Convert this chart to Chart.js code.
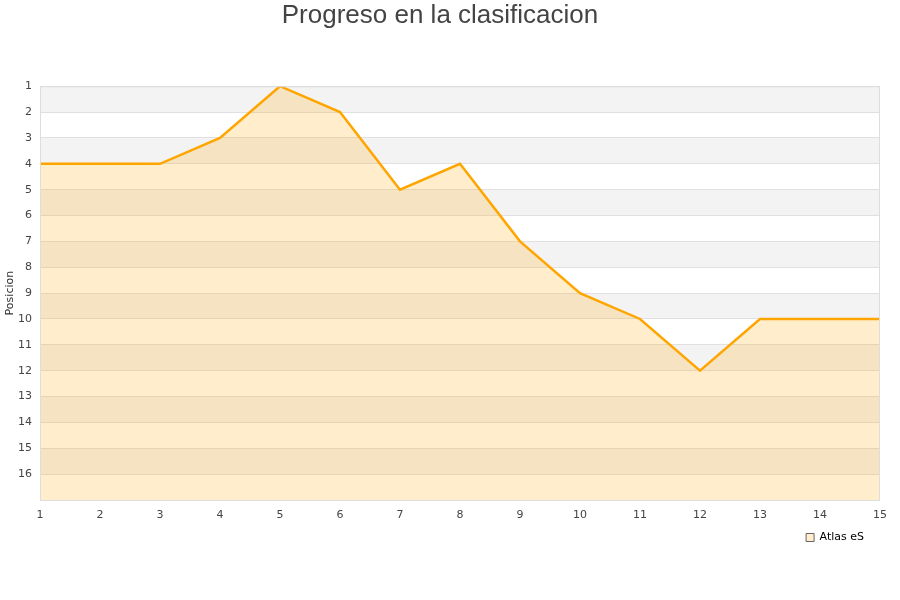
<!DOCTYPE html>
<html>
<head>
<meta charset="utf-8">
<title>Progreso en la clasificacion</title>
<script src="https://cdn.jsdelivr.net/npm/chart.js@4/dist/chart.umd.min.js"></script>
<style>
  html, body { margin: 0; padding: 0; background: #fff; }
  #wrap { width: 900px; height: 600px; }
</style>
</head>
<body>
<div id="wrap"><canvas id="myChart" width="900" height="600"></canvas></div>
<script>
// Jornadas y posiciones
var jornadas = [1, 2, 3, 4, 5, 6, 7, 8, 9, 10, 11, 12, 13, 14, 15];
var posiciones = [4, 4, 4, 3, 1, 2, 5, 4, 7, 9, 10, 12, 10, 10, 10];
var equipo = "Atlas eS";
var posMin = 1;
var posMax = 17;

// franjas grises alternas y borde del area
var bandsPlugin = {
  id: "bands",
  afterLayout: function (chart) {
    // leyenda un poco separada del borde derecho
    chart.legend.left -= 10;
    chart.legend.right -= 10;
  },
  beforeDraw: function (chart) {
    var ctx = chart.ctx;
    var area = chart.chartArea;
    var y = chart.scales.y;
    ctx.save();
    ctx.fillStyle = "#f3f3f3";
    for (var v = posMin; v < posMax; v += 2) {
      var top = y.getPixelForValue(v);
      var bottom = y.getPixelForValue(v + 1);
      ctx.fillRect(area.left, top, area.right - area.left, bottom - top);
    }
    ctx.restore();
  },
  afterDraw: function (chart) {
    var ctx = chart.ctx;
    var area = chart.chartArea;
    ctx.save();
    ctx.strokeStyle = "#dddddd";
    ctx.lineWidth = 1;
    ctx.strokeRect(area.left + 0.5, area.top + 0.5, area.right - area.left - 1, area.bottom - area.top);
    ctx.restore();
  }
};

var ctx = document.getElementById("myChart").getContext("2d");
var chart = new Chart(ctx, {
  type: "line",
  data: {
    datasets: [
      {
        label: equipo,
        data: jornadas.map(function (j, i) { return { x: j, y: posiciones[i] }; }),
        borderColor: "#ffa500",
        backgroundColor: "rgba(255, 165, 0, 0.2)",
        borderWidth: 2.5,
        pointRadius: 0,
        tension: 0,
        fill: "start"
      }
    ]
  },
  options: {
    responsive: false,
    animation: false,
    layout: { padding: { left: 0, right: 20, top: 0, bottom: 47 } },
    plugins: {
      title: {
        display: true,
        text: "Progreso en la clasificacion",
        color: "#444444",
        font: { family: "Liberation Sans", size: 26, weight: "normal" },
        padding: { top: 0, bottom: 55 }
      },
      legend: {
        position: "bottom",
        align: "end",
        labels: {
          boxWidth: 8,
          boxHeight: 8,
          color: "#000000",
          font: { family: "DejaVu Sans", size: 11 },
          padding: 6,
          generateLabels: function (chart) {
            return [{
              text: equipo,
              fillStyle: "#ffedcc",
              strokeStyle: "#666666",
              lineWidth: 1,
              datasetIndex: 0
            }];
          }
        }
      },
      tooltip: { enabled: false }
    },
    scales: {
      x: {
        type: "linear",
        min: 1,
        max: 15,
        ticks: {
          stepSize: 1,
          color: "#444444",
          font: { family: "DejaVu Sans", size: 11 },
          padding: 9,
          maxRotation: 0
        },
        grid: { display: false, drawTicks: false },
        border: { display: false },
        afterFit: function (scale) { scale.height = 26; }
      },
      y: {
        type: "linear",
        reverse: true,
        min: posMin,
        max: posMax,
        ticks: {
          stepSize: 1,
          color: "#444444",
          font: { family: "DejaVu Sans", size: 11 },
          padding: 8,
          callback: function (v) { return v < posMax ? v : ""; }
        },
        grid: { color: "#e0e0e0", drawTicks: false },
        border: { display: false },
        title: {
          display: true,
          text: "Posicion",
          color: "#333333",
          font: { family: "DejaVu Sans", size: 11 },
          padding: { top: 4, bottom: 0 }
        },
        afterFit: function (scale) { scale.width = 40; }
      }
    }
  },
  plugins: [bandsPlugin]
});
</script>
</body>
</html>
